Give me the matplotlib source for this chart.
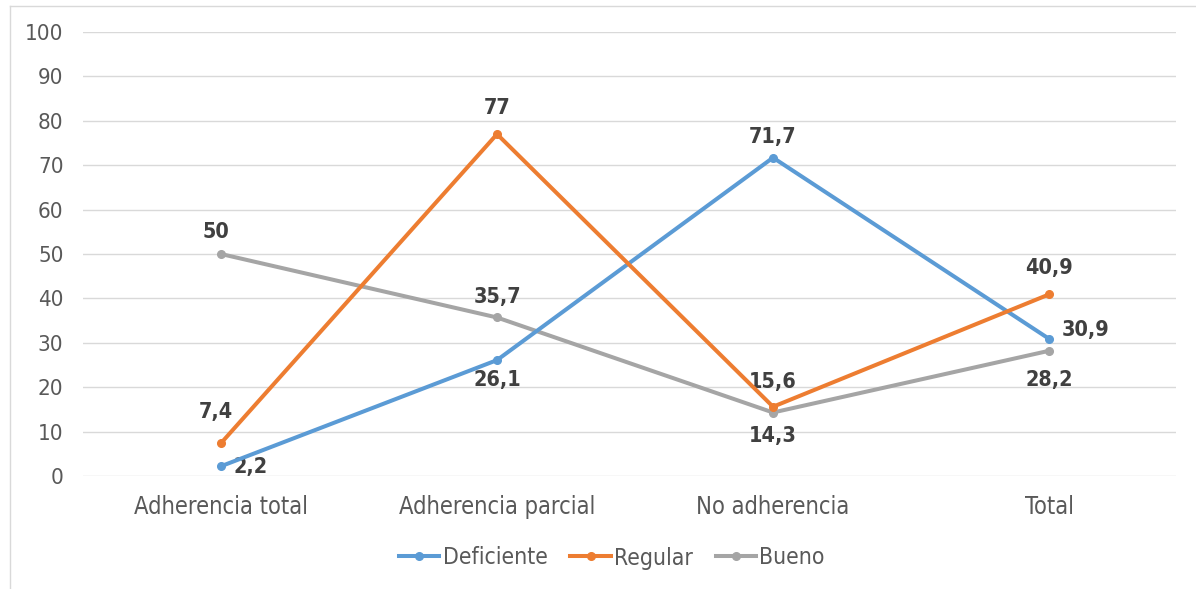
import matplotlib
matplotlib.use("Agg")
import matplotlib.pyplot as plt
from matplotlib.lines import Line2D

plt.rcParams['font.family'] = ['DejaVu Sans']
plt.rcParams['font.stretch'] = 'condensed'

categories = ["Adherencia total", "Adherencia parcial", "No adherencia", "Total"]
deficiente = [2.2, 26.1, 71.7, 30.9]
regular = [7.4, 77, 15.6, 40.9]
bueno = [50, 35.7, 14.3, 28.2]
labels_def = ["2,2", "26,1", "71,7", "30,9"]
labels_reg = ["7,4", "77", "15,6", "40,9"]
labels_bue = ["50", "35,7", "14,3", "28,2"]
yticks = [0, 10, 20, 30, 40, 50, 60, 70, 80, 90, 100]

c_def = "#5B9BD5"
c_reg = "#ED7D31"
c_bue = "#A5A5A5"

fig = plt.figure(figsize=(11.96, 5.89), dpi=100)
ax = fig.add_axes([83/1196, 1-476/589, (1176-83)/1196, (476-32)/589])

x = list(range(len(categories)))
ax.plot(x, bueno, color=c_bue, lw=2.9, marker='o', ms=5.5, zorder=3)
ax.plot(x, deficiente, color=c_def, lw=2.9, marker='o', ms=5.5, zorder=4)
ax.plot(x, regular, color=c_reg, lw=2.9, marker='o', ms=5.5, zorder=5)

ax.set_xlim(-0.5, 3.46)
ax.set_ylim(0, 100)
ax.set_yticks(yticks)
ax.set_xticks(x)
ax.set_xticklabels(categories, fontsize=17)
ax.tick_params(axis='both', length=0, labelcolor="#595959")
ax.tick_params(axis='y', labelsize=16, pad=14)
ax.tick_params(axis='x', pad=14)
ax.grid(axis='y', color="#D9D9D9", lw=1)
ax.set_axisbelow(True)
for s in ax.spines.values():
    s.set_visible(False)

lab_kw = dict(fontsize=15.5, fontweight='bold', color="#404040", ha='center', va='center')
# offsets in pixels (dx, dy), dy positive = up
off_def = [(30, -1), (0, -20), (0, 21), (37, 9)]
off_reg = [(-5, 31), (0, 26), (0, 25), (0, 26)]
off_bue = [(-5, 22), (0, 20), (0, -23), (0, -29)]
for vals, labs, offs in [(deficiente, labels_def, off_def), (regular, labels_reg, off_reg), (bueno, labels_bue, off_bue)]:
    for xi, v, t, o in zip(x, vals, labs, offs):
        ax.annotate(t, (xi, v), xytext=o, textcoords='offset pixels', **lab_kw)

handles = [Line2D([], [], color=c_def, lw=2.9, marker='o', ms=5.5),
           Line2D([], [], color=c_reg, lw=2.9, marker='o', ms=5.5),
           Line2D([], [], color=c_bue, lw=2.9, marker='o', ms=5.5)]
fig.legend(handles, ["Deficiente", "Regular", "Bueno"], loc='center', bbox_to_anchor=(612/1196, 1-558/589),
           ncol=3, frameon=False, fontsize=16.5, handlelength=1.75, handletextpad=0.15, columnspacing=1.0,
           labelcolor="#595959")

# outer chart border
fig.add_artist(Line2D([10/1196, 10/1196], [0, 1-6/589], color="#D9D9D9", lw=1, transform=fig.transFigure))
fig.add_artist(Line2D([10/1196, 1], [1-6/589, 1-6/589], color="#D9D9D9", lw=1, transform=fig.transFigure))

fig.savefig("out.png", dpi=100)
